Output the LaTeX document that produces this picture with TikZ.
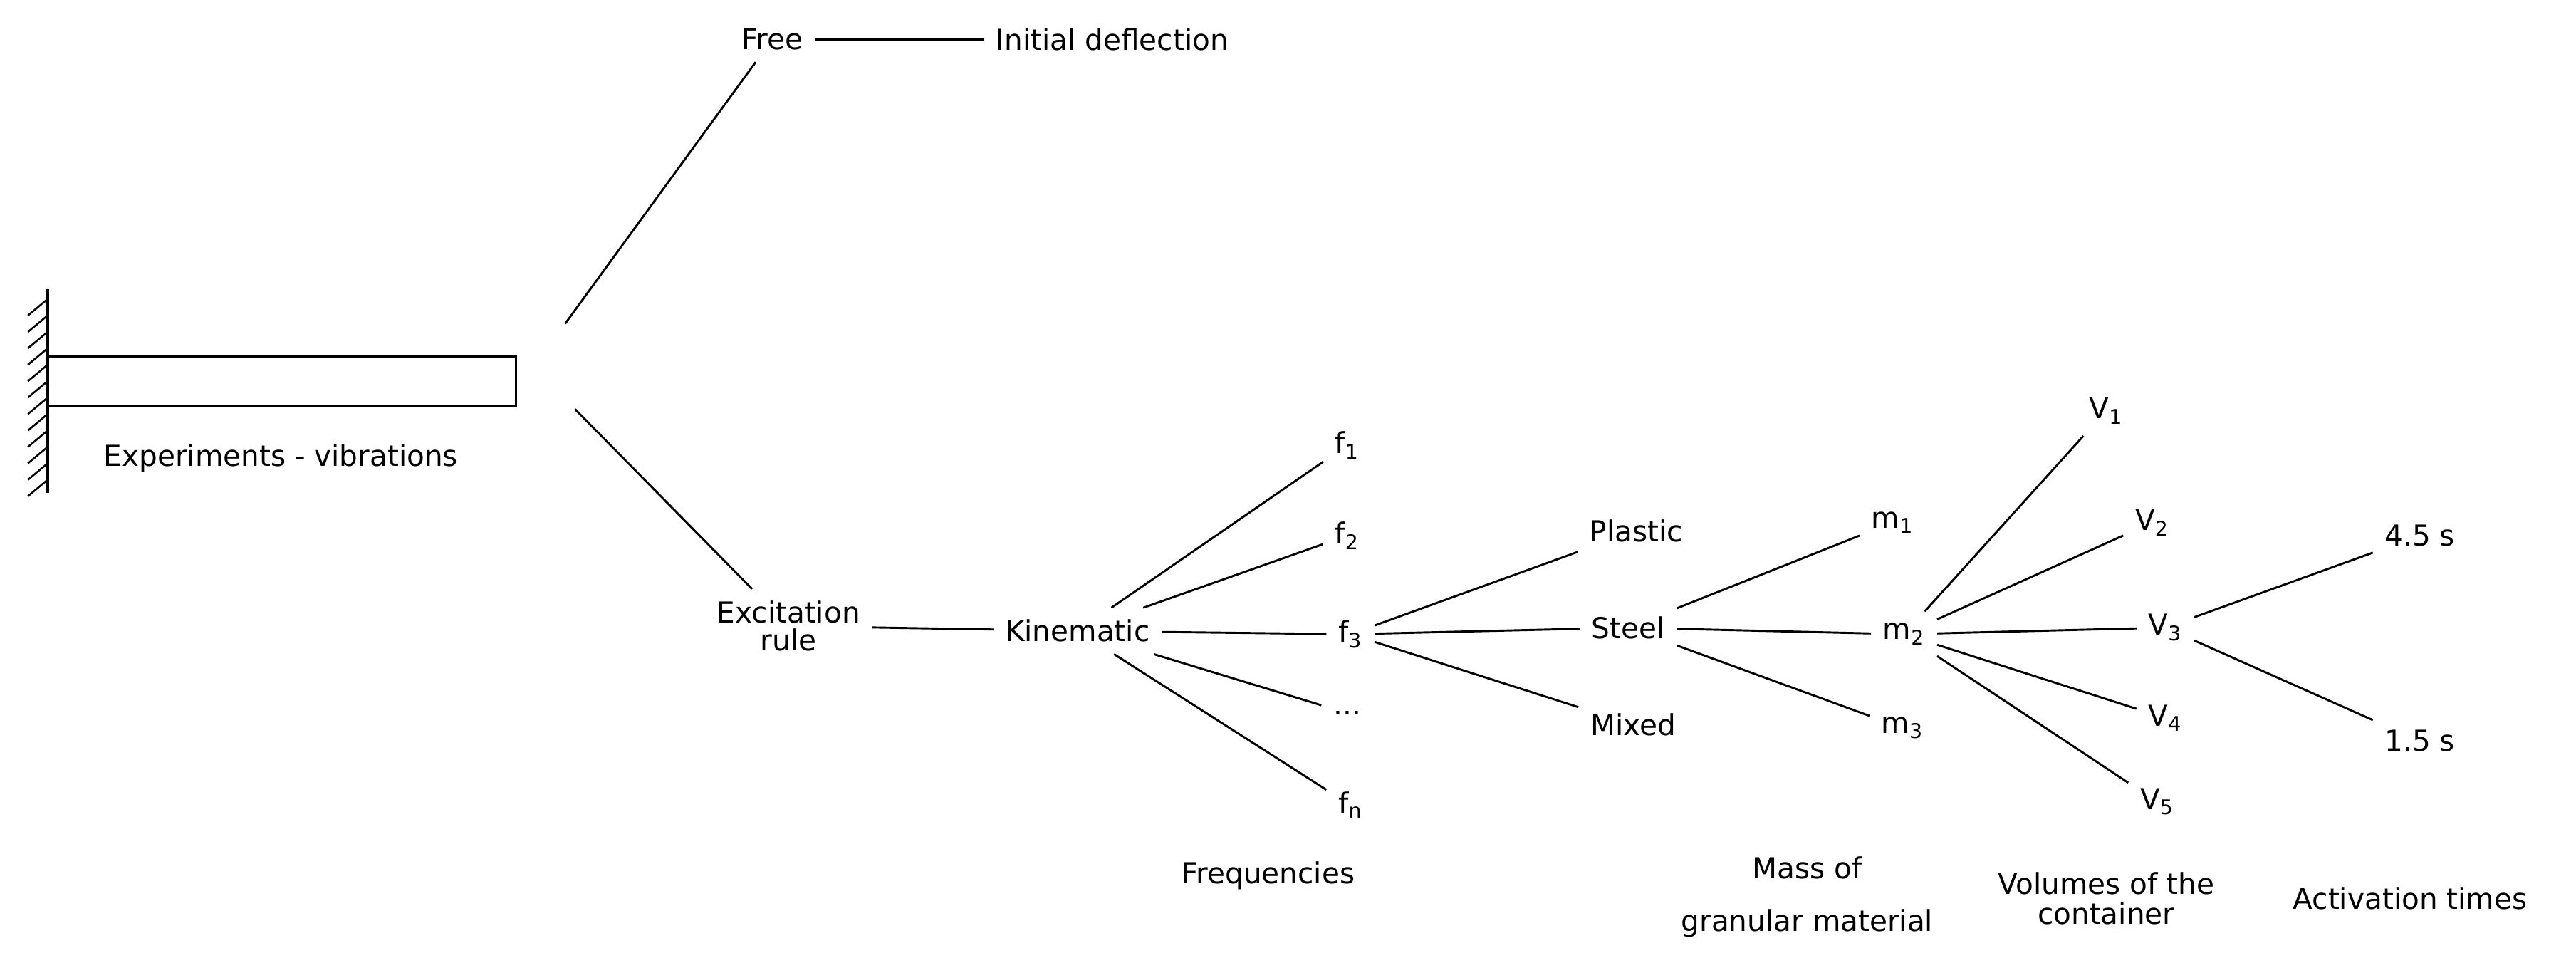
\documentclass[tikz,border=0pt]{standalone}
\usepackage{fontspec}
\setmainfont{DejaVu Sans}
\begin{document}
\begin{tikzpicture}
 [x=0.025cm, y=-0.025cm,
 lbl/.style={font=\fontsize{12.5}{15}\selectfont, inner sep=5pt, align=center},
 br/.style={line width=0.9pt}]
 \useasboundingbox (0,0) rectangle (1568,589);
 % clamped beam
 \draw[line width=1.2pt] (29,176) -- (29,300);
 \foreach \y in {182,192,...,296}
  \draw[line width=0.8pt] (29,\y) -- (17,\y+10);
 \draw[line width=1pt] (29,217) rectangle (314,247);
 \node (exp) [lbl] at (171,279) {Experiments - vibrations};
 \coordinate (root) at (340,223);
 % first level
 \node (free) [lbl] at (470,24) {Free};
 \node (init) [lbl] at (677,24) {Initial deflection};
 \node (exc) [lbl] at (480,381) {Excitation\\[-3pt]rule};
 \node (kin) [lbl] at (656,384) {Kinematic};
 % frequencies
 \node (f1) [lbl] at (820,271) {f\textsubscript{1}};
 \node (f2) [lbl] at (820,326) {f\textsubscript{2}};
 \node (f3) [lbl] at (822,386) {f\textsubscript{3}};
 \node (fd) [lbl] at (820,434) {...};
 \node (fn) [lbl] at (822,490) {f\textsubscript{n}};
 \node (freq) [lbl] at (772,533) {Frequencies};
 % materials
 \node (pla) [lbl] at (996,323) {Plastic};
 \node (ste) [lbl] at (991,382) {Steel};
 \node (mix) [lbl] at (994,441) {Mixed};
 % masses
 \node (m1) [lbl] at (1152,318) {m\textsubscript{1}};
 \node (m2) [lbl] at (1159,386) {m\textsubscript{2}};
 \node (m3) [lbl] at (1158,443) {m\textsubscript{3}};
 \node (mass) [lbl] at (1100,546) {Mass of\\[8pt]granular material};
 % volumes
 \node (v1) [lbl] at (1282,250) {V\textsubscript{1}};
 \node (v2) [lbl] at (1310,318) {V\textsubscript{2}};
 \node (v3) [lbl] at (1318,382) {V\textsubscript{3}};
 \node (v4) [lbl] at (1318,437) {V\textsubscript{4}};
 \node (v5) [lbl] at (1313,488) {V\textsubscript{5}};
 \node (vol) [lbl] at (1282,547) {Volumes of the\\[-2pt]container};
 % times
 \node (t1) [lbl] at (1473,326) {4.5 s};
 \node (t2) [lbl] at (1473,451) {1.5 s};
 \node (act) [lbl] at (1467,547) {Activation times};
 % branches
 \draw[br] (344,197) -- (free);
 \draw[br] (350,249) -- (exc);
 \draw[br] (free) -- (init);
 \draw[br] (exc) -- (kin);
 \foreach \n in {f1,f2,f3,fd,fn}
  \draw[br] (kin) -- (\n);
 \foreach \n in {pla,ste,mix}
  \draw[br] (f3) -- (\n);
 \foreach \n in {m1,m2,m3}
  \draw[br] (ste) -- (\n);
 \foreach \n in {v1,v2,v3,v4,v5}
  \draw[br] (m2) -- (\n);
 \foreach \n in {t1,t2}
  \draw[br] (v3) -- (\n);
\end{tikzpicture}
\end{document}
